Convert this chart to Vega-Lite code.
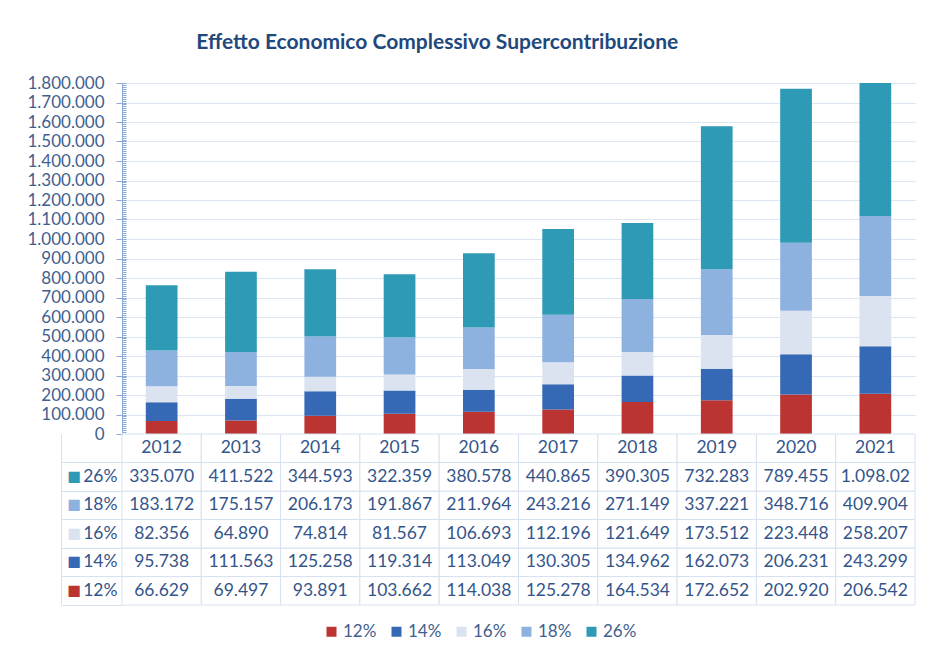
{
  "$schema": "https://vega.github.io/schema/vega-lite/v6.json",
  "padding": {"left": 26, "top": 32, "right": 5, "bottom": 5},
  "bounds": "flush",
  "spacing": 0,
  "config": {
    "font": "Lato",
    "locale": {"number": {"decimal": ",", "thousands": ".", "grouping": [3], "currency": ["", " €"]}},
    "view": {"stroke": null}
  },
  "title": {"text": "Effetto Economico  Complessivo Supercontribuzione", "fontSize": 21, "fontWeight": "bold", "color": "#1F497D", "font": "Lato", "anchor": "middle", "dx": -34, "offset": 21},
  "data": {"values": [
    {"year": 2012, "series": "12%", "k": 1, "value": 66629},
    {"year": 2013, "series": "12%", "k": 1, "value": 69497},
    {"year": 2014, "series": "12%", "k": 1, "value": 93891},
    {"year": 2015, "series": "12%", "k": 1, "value": 103662},
    {"year": 2016, "series": "12%", "k": 1, "value": 114038},
    {"year": 2017, "series": "12%", "k": 1, "value": 125278},
    {"year": 2018, "series": "12%", "k": 1, "value": 164534},
    {"year": 2019, "series": "12%", "k": 1, "value": 172652},
    {"year": 2020, "series": "12%", "k": 1, "value": 202920},
    {"year": 2021, "series": "12%", "k": 1, "value": 206542},
    {"year": 2012, "series": "14%", "k": 2, "value": 95738},
    {"year": 2013, "series": "14%", "k": 2, "value": 111563},
    {"year": 2014, "series": "14%", "k": 2, "value": 125258},
    {"year": 2015, "series": "14%", "k": 2, "value": 119314},
    {"year": 2016, "series": "14%", "k": 2, "value": 113049},
    {"year": 2017, "series": "14%", "k": 2, "value": 130305},
    {"year": 2018, "series": "14%", "k": 2, "value": 134962},
    {"year": 2019, "series": "14%", "k": 2, "value": 162073},
    {"year": 2020, "series": "14%", "k": 2, "value": 206231},
    {"year": 2021, "series": "14%", "k": 2, "value": 243299},
    {"year": 2012, "series": "16%", "k": 3, "value": 82356},
    {"year": 2013, "series": "16%", "k": 3, "value": 64890},
    {"year": 2014, "series": "16%", "k": 3, "value": 74814},
    {"year": 2015, "series": "16%", "k": 3, "value": 81567},
    {"year": 2016, "series": "16%", "k": 3, "value": 106693},
    {"year": 2017, "series": "16%", "k": 3, "value": 112196},
    {"year": 2018, "series": "16%", "k": 3, "value": 121649},
    {"year": 2019, "series": "16%", "k": 3, "value": 173512},
    {"year": 2020, "series": "16%", "k": 3, "value": 223448},
    {"year": 2021, "series": "16%", "k": 3, "value": 258207},
    {"year": 2012, "series": "18%", "k": 4, "value": 183172},
    {"year": 2013, "series": "18%", "k": 4, "value": 175157},
    {"year": 2014, "series": "18%", "k": 4, "value": 206173},
    {"year": 2015, "series": "18%", "k": 4, "value": 191867},
    {"year": 2016, "series": "18%", "k": 4, "value": 211964},
    {"year": 2017, "series": "18%", "k": 4, "value": 243216},
    {"year": 2018, "series": "18%", "k": 4, "value": 271149},
    {"year": 2019, "series": "18%", "k": 4, "value": 337221},
    {"year": 2020, "series": "18%", "k": 4, "value": 348716},
    {"year": 2021, "series": "18%", "k": 4, "value": 409904},
    {"year": 2012, "series": "26%", "k": 5, "value": 335070},
    {"year": 2013, "series": "26%", "k": 5, "value": 411522},
    {"year": 2014, "series": "26%", "k": 5, "value": 344593},
    {"year": 2015, "series": "26%", "k": 5, "value": 322359},
    {"year": 2016, "series": "26%", "k": 5, "value": 380578},
    {"year": 2017, "series": "26%", "k": 5, "value": 440865},
    {"year": 2018, "series": "26%", "k": 5, "value": 390305},
    {"year": 2019, "series": "26%", "k": 5, "value": 732283},
    {"year": 2020, "series": "26%", "k": 5, "value": 789455},
    {"year": 2021, "series": "26%", "k": 5, "value": 1098020}
  ]},
  "resolve": {"scale": {"x": "independent", "y": "independent"}},
  "vconcat": [
    {
      "width": 793,
      "height": 351,
      "layer": [
        {
          "mark": {"type": "bar", "clip": true},
          "encoding": {
            "x": {"field": "year", "type": "ordinal", "scale": {"paddingInner": 0.6, "paddingOuter": 0.3}, "axis": null},
            "y": {"field": "value", "type": "quantitative", "stack": "zero", "scale": {"domain": [0, 1800000], "nice": false},
              "axis": {"title": null, "tickCount": 18, "format": ",d", "grid": true, "gridColor": "#DCE6F2", "domainColor": "#8EAADB", "tickColor": "#8EAADB", "tickSize": 6, "labelPadding": 12, "labelFontSize": 17, "labelColor": "#3F5F8F"}},
            "color": {"field": "series", "type": "nominal",
              "scale": {"domain": ["12%", "14%", "16%", "18%", "26%"], "range": ["#BC3431", "#3569B5", "#DAE3EF", "#8EB2E0", "#2E9AB6"]},
              "legend": {"orient": "none", "legendX": 201, "legendY": 540, "direction": "horizontal", "title": null, "symbolType": "square", "symbolSize": 100, "symbolStrokeWidth": 0, "labelFontSize": 17, "labelColor": "#3F5F8F", "columnPadding": 11, "labelOffset": 3}},
            "order": {"field": "k", "type": "quantitative", "sort": "ascending"}
          }
        },
        {
          "mark": {"type": "bar", "clip": true, "opacity": 0},
          "encoding": {
            "x": {"field": "year", "type": "ordinal", "axis": null},
            "y": {"field": "value", "type": "quantitative", "stack": "zero", "scale": {"domain": [0, 1800000], "nice": false},
              "axis": {"title": null, "orient": "left", "tickCount": 180, "labels": false, "grid": false, "domain": false, "tickSize": -4, "tickColor": "#8EAADB"}}
          }
        }
      ],
      "resolve": {"axis": {"y": "independent"}}
    },
    {
      "width": 793,
      "height": 171,
      "layer": [
        {
          "mark": {"type": "rect", "fill": "white", "stroke": "#D6E2F1", "strokeWidth": 1},
          "encoding": {
            "x": {"field": "year", "type": "ordinal", "scale": {"paddingInner": 0, "paddingOuter": 0}, "axis": null},
            "y": {"field": "series", "type": "nominal", "scale": {"domain": ["hdr", "26%", "18%", "16%", "14%", "12%"], "paddingInner": 0, "paddingOuter": 0},
              "axis": {"title": null, "orient": "left", "domain": false, "ticks": false, "labelAlign": "right", "labelPadding": 5, "labelFontSize": 17.5, "labelColor": "#34558B", "labelExpr": "datum.value == 'hdr' ? '' : datum.value"}}
          }
        },
        {
          "transform": [{"filter": "datum.series == '12%'"}],
          "mark": {"type": "rect", "fill": "white", "stroke": "#D6E2F1", "strokeWidth": 1},
          "encoding": {
            "x": {"field": "year", "type": "ordinal", "axis": null},
            "y": {"datum": "hdr", "type": "nominal",
              "axis": {"title": null, "orient": "left", "domain": false, "labels": false, "ticks": true, "tickSize": 61, "bandPosition": 1, "tickColor": "#D6E2F1"}}
          }
        },
        {
          "transform": [{"filter": "datum.series == '12%'"}],
          "mark": {"type": "text", "fontSize": 17.5, "color": "#34558B"},
          "encoding": {
            "x": {"field": "year", "type": "ordinal", "axis": null},
            "y": {"datum": "hdr", "type": "nominal",
              "axis": {"title": null, "orient": "left", "offset": 61, "domain": true, "domainColor": "#D6E2F1", "ticks": false, "labelAlign": "left", "labelPadding": -6, "labelFont": "DejaVu Sans", "labelFontSize": 14.5,
                "labelExpr": "datum.value == 'hdr' ? '' : '■'",
                "labelColor": {"condition": [
                  {"test": "datum.value == '26%'", "value": "#2E9AB6"},
                  {"test": "datum.value == '18%'", "value": "#8EB2E0"},
                  {"test": "datum.value == '14%'", "value": "#3569B5"},
                  {"test": "datum.value == '12%'", "value": "#BC3431"}
                ], "value": "#DAE3EF"}}},
            "text": {"field": "year", "type": "nominal"}
          }
        },
        {
          "mark": {"type": "text", "fontSize": 17.5, "color": "#34558B", "limit": 74, "ellipsis": "\u200B"},
          "encoding": {
            "x": {"field": "year", "type": "ordinal", "axis": null},
            "y": {"field": "series", "type": "nominal", "axis": null},
            "text": {"field": "value", "type": "quantitative", "format": ",d"}
          }
        }
      ],
      "resolve": {"axis": {"y": "independent"}}
    }
  ]
}
